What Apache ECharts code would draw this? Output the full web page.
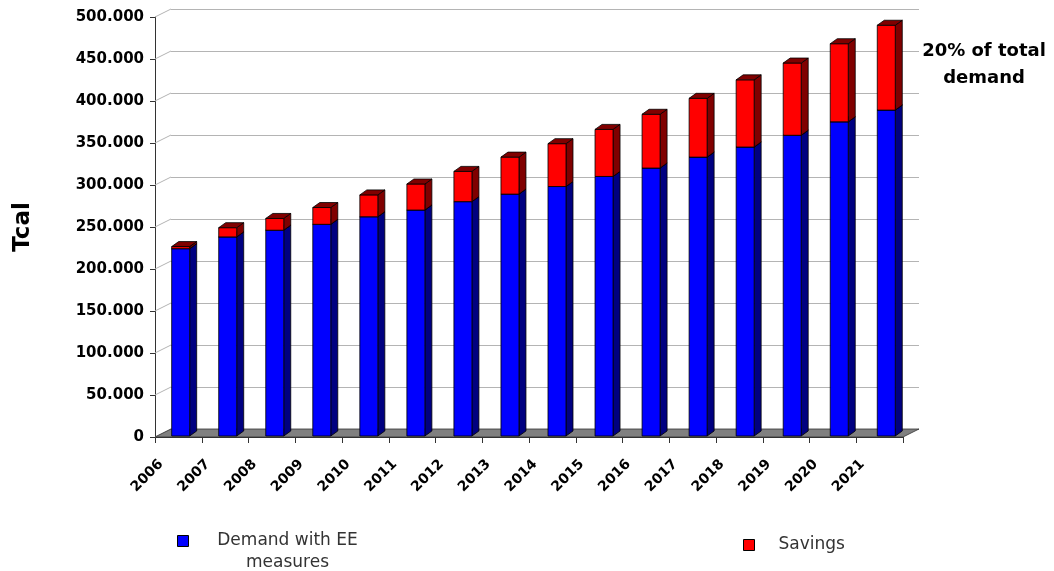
<!DOCTYPE html>
<html>
<head>
<meta charset="utf-8">
<script src="https://cdn.jsdelivr.net/npm/echarts@6.0.0/dist/echarts.min.js"></script>
<style>
html,body{margin:0;padding:0;background:#fff;}
#c{width:1054px;height:571px;}
</style>
</head>
<body>
<div id="c"></div>
<script>
// ---- data (Tcal) ----
const years = ['2006','2007','2008','2009','2010','2011','2012','2013','2014','2015','2016','2017','2018','2019','2020','2021'];
const demand = [223000, 237000, 245000, 252000, 261000, 269000, 279000, 288000, 297000, 309000, 319000, 332000, 344000, 358000, 374000, 388000];
const savings = [2500, 11000, 14000, 20000, 26000, 31000, 36000, 44000, 51000, 56000, 64000, 70000, 80000, 86000, 93000, 101000];
const yTicks = [0, 50000, 100000, 150000, 200000, 250000, 300000, 350000, 400000, 450000, 500000];
const seriesNames = ['Demand with EE measures', 'Savings'];
const annotation = '20% of total\ndemand';

const FONT = '"DejaVu Sans", "Liberation Sans", sans-serif';
const DX = 16, DY = -8;       // back-wall offset
const SX = 7, SY = -5;        // bar depth offset
const BW = 18;                // bar front width

function fmt(v) { return String(v).replace(/\B(?=(\d{3})+(?!\d))/g, '.'); }

function makeBar(front, dark) {
  return function (params, api) {
    const i = api.value(0);
    const cx = api.coord([i, 0])[0];
    const x0 = cx - 6.7 + i * 0.29;
    const yb = api.coord([i, api.value(1)])[1] - 1;
    const yt = api.coord([i, api.value(2)])[1] - 1;
    const st = { stroke: '#000', lineWidth: 0.8 };
    return {
      type: 'group',
      children: [
        { type: 'polygon', shape: { points: [[x0 + BW, yt], [x0 + BW + SX, yt + SY], [x0 + BW + SX, yb + SY], [x0 + BW, yb]] },
          style: Object.assign({ fill: dark }, st) },
        { type: 'rect', shape: { x: x0, y: yt, width: BW, height: yb - yt },
          style: Object.assign({ fill: front }, st) },
        { type: 'polygon', shape: { points: [[x0, yt], [x0 + SX, yt + SY], [x0 + BW + SX, yt + SY], [x0 + BW, yt]] },
          style: Object.assign({ fill: dark }, st) }
      ]
    };
  };
}

const demandData = years.map((y, i) => [i, 0, demand[i]]);
const savingsData = years.map((y, i) => [i, demand[i], demand[i] + savings[i]]);

const chart = echarts.init(document.getElementById('c'), null, { renderer: 'canvas' });

const yBase = { type: 'value', min: 0, max: 500000, interval: 50000 };

chart.setOption({
  animation: false,
  backgroundColor: '#fff',
  grid: [
    { left: 155, right: 151, top: 17, bottom: 134 },
    { left: 171, right: 135, top: 9, bottom: 142 },
    { left: 161, right: 145, top: 17, bottom: 134 }
  ],
  xAxis: [
    { gridIndex: 0, type: 'category', data: years, boundaryGap: true,
      axisLine: { show: true, lineStyle: { color: '#333', width: 1 } },
      axisTick: { show: true, length: 6, interval: 0, lineStyle: { color: '#333' } },
      axisLabel: { show: false }, splitLine: { show: false } },
    { gridIndex: 1, type: 'category', data: years, show: false },
    { gridIndex: 2, type: 'category', data: years.concat(['']), boundaryGap: false,
      axisLine: { show: false }, axisTick: { show: false },
      axisLabel: { show: true, interval: 0, rotate: 45, margin: 25,
        fontFamily: FONT, fontWeight: 'bold', fontSize: 14, color: '#000' } }
  ],
  yAxis: [
    Object.assign({ gridIndex: 0,
      axisLine: { show: true, lineStyle: { color: '#333', width: 1 } },
      axisTick: { show: true, length: 5, lineStyle: { color: '#333' } },
      splitLine: { show: false },
      axisLabel: { margin: 11, fontFamily: FONT, fontWeight: 'bold', fontSize: 15, color: '#000', formatter: fmt },
      name: 'Tcal', nameLocation: 'middle', nameGap: 120,
      nameTextStyle: { fontFamily: FONT, fontWeight: 'bold', fontSize: 23, color: '#000' }
    }, yBase),
    Object.assign({ gridIndex: 1,
      axisLine: { show: false }, axisTick: { show: false }, axisLabel: { show: false },
      splitLine: { show: true, lineStyle: { color: '#b4b4b4', width: 1 } } }, yBase),
    Object.assign({ gridIndex: 2, show: false }, yBase)
  ],
  legend: [
    { data: [seriesNames[0]], left: 177, top: 508, padding: 0, selectedMode: false,
      icon: 'rect', itemWidth: 11, itemHeight: 11,
      itemStyle: { borderColor: '#000', borderWidth: 1 },
      formatter: () => '\n{a|Demand with EE}\n{a|measures}',
      textStyle: { fontFamily: FONT, fontSize: 17, lineHeight: 22, color: '#333',
        rich: { a: { width: 188, align: 'center', fontFamily: FONT, fontSize: 17, lineHeight: 22, color: '#333' } } } },
    { data: [seriesNames[1]], left: 743, top: 534, padding: 0, selectedMode: false,
      icon: 'rect', itemWidth: 11, itemHeight: 11,
      itemStyle: { borderColor: '#000', borderWidth: 1 },
      formatter: (n) => '{b|' + n + '}',
      textStyle: { fontFamily: FONT, fontSize: 17, lineHeight: 22, color: '#333',
        rich: { b: { padding: [0, 0, 0, 19], fontFamily: FONT, fontSize: 17, lineHeight: 22, color: '#333' } } } }
  ],
  graphic: [
    { type: 'text', x: 984, y: 38, z: 10,
      style: { text: annotation, align: 'center', verticalAlign: 'top',
        fontFamily: FONT, fontWeight: 'bold', fontSize: 18, lineHeight: 27, fill: '#000' } }
  ],
  series: [
    { type: 'custom', name: 'wall', xAxisIndex: 0, yAxisIndex: 0, z: 1, silent: true,
      data: [[0, 0]],
      renderItem: function (params, api) {
        const cs = params.coordSys;
        const x = cs.x, w = cs.width, yb = cs.y + cs.height;
        const children = [];
        yTicks.forEach(v => {
          const yy = api.coord([0, v])[1];
          children.push({ type: 'line', shape: { x1: x, y1: yy, x2: x + DX, y2: yy + DY },
            style: { stroke: '#b4b4b4', lineWidth: 1 } });
        });
        children.push({ type: 'polygon',
          shape: { points: [[x, yb], [x + w, yb], [x + w + DX, yb + DY], [x + DX, yb + DY]] },
          style: { fill: '#808080', stroke: '#333', lineWidth: 0.8 } });
        return { type: 'group', children: children };
      } },
    { type: 'custom', name: seriesNames[0], xAxisIndex: 0, yAxisIndex: 0, z: 2,
      itemStyle: { color: '#0000ff', borderColor: '#000', borderWidth: 1 },
      encode: { x: 0, y: 2 },
      data: demandData, renderItem: makeBar('#0000ff', '#000080') },
    { type: 'custom', name: seriesNames[1], xAxisIndex: 0, yAxisIndex: 0, z: 3,
      itemStyle: { color: '#ff0000', borderColor: '#000', borderWidth: 1 },
      encode: { x: 0, y: 2 },
      data: savingsData, renderItem: makeBar('#ff0000', '#800000') }
  ]
});
</script>
</body>
</html>
